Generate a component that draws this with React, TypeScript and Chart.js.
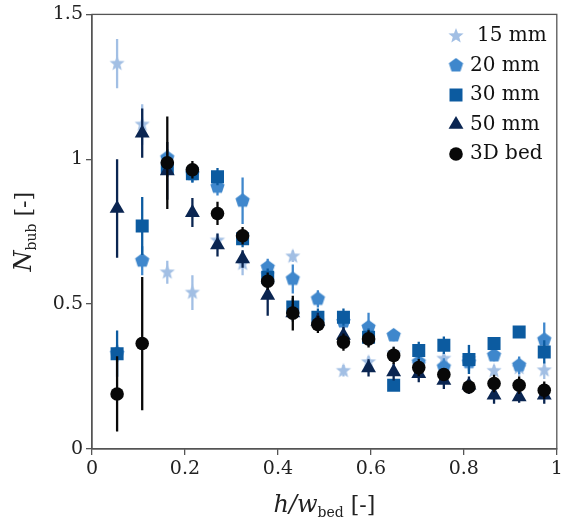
import React, { useEffect, useRef } from 'react';
import { Chart, registerables } from 'chart.js';
Chart.register(...registerables);

const hOverW = [0.054, 0.108, 0.162, 0.216, 0.27, 0.324, 0.378, 0.432, 0.486, 0.541, 0.595, 0.649, 0.703, 0.757, 0.811, 0.865, 0.919, 0.973];

const n15 = [1.33, 1.12, 0.61, 0.54, 0.72, 0.64, 0.6, 0.665, 0.44, 0.27, 0.3, 0.33, 0.29, 0.312, 0.31, 0.27, 0.28, 0.272];
const e15 = [0.085, 0.07, 0.04, 0.06, 0.02, 0.04, 0.03, 0.02, 0.02, 0.02, 0.02, 0.02, 0.02, 0.02, 0.05, 0.02, 0.03, 0.03];

const n20 = [0.33, 0.65, 1.005, 0.95, 0.905, 0.857, 0.627, 0.587, 0.518, 0.44, 0.42, 0.392, 0.3, 0.283, 0.3, 0.323, 0.289, 0.377];
const e20 = [0.03, 0.05, 0.03, 0.03, 0.03, 0.08, 0.03, 0.05, 0.03, 0.03, 0.05, 0.02, 0.02, 0.03, 0.03, 0.02, 0.03, 0.06];

const n30 = [0.329, 0.77, 0.97, 0.95, 0.94, 0.726, 0.593, 0.49, 0.455, 0.455, 0.386, 0.22, 0.34, 0.358, 0.309, 0.364, 0.404, 0.335];
const e30 = [0.08, 0.1, 0.03, 0.03, 0.03, 0.03, 0.03, 0.03, 0.03, 0.03, 0.03, 0.02, 0.03, 0.03, 0.05, 0.02, 0.02, 0.04];

const n50 = [0.83, 1.09, 0.96, 0.816, 0.704, 0.656, 0.53, 0.47, 0.44, 0.392, 0.28, 0.266, 0.26, 0.237, 0.22, 0.186, 0.18, 0.186];
const e50 = [0.17, 0.085, 0.1, 0.05, 0.04, 0.03, 0.07, 0.03, 0.03, 0.03, 0.03, 0.03, 0.03, 0.03, 0.03, 0.03, 0.02, 0.03];

const n3d = [0.19, 0.364, 0.988, 0.964, 0.813, 0.736, 0.579, 0.469, 0.43, 0.369, 0.38, 0.323, 0.281, 0.257, 0.214, 0.226, 0.22, 0.203];
const e3d = [0.13, 0.23, 0.16, 0.03, 0.04, 0.03, 0.03, 0.06, 0.03, 0.03, 0.03, 0.03, 0.03, 0.02, 0.02, 0.03, 0.03, 0.03];

const seriesLabels = ['15 mm', '20 mm', '30 mm', '50 mm', '3D bed'];
const xTicks = [0, 0.2, 0.4, 0.6, 0.8, 1];
const yTicks = [0, 0.5, 1, 1.5];

const COLORS = ['#a2bfe4', '#3f87cc', '#0c5ba0', '#0a2551', '#080808'];
const FONT = '"DejaVu Serif", serif';
const AXIS = '#555555';

function polyCanvas(points: number, outer: number, inner: number, color: string): HTMLCanvasElement {
  const size = Math.ceil(outer * 2 + 2);
  const c = document.createElement('canvas');
  c.width = size;
  c.height = size;
  const ctx = c.getContext('2d')!;
  const cx = size / 2, cy = size / 2;
  ctx.beginPath();
  const n = inner > 0 ? points * 2 : points;
  for (let i = 0; i < n; i++) {
    const r = inner > 0 && i % 2 === 1 ? inner : outer;
    const a = -Math.PI / 2 + (i * 2 * Math.PI) / n;
    const x = cx + r * Math.cos(a);
    const y = cy + r * Math.sin(a);
    if (i === 0) ctx.moveTo(x, y); else ctx.lineTo(x, y);
  }
  ctx.closePath();
  ctx.fillStyle = color;
  ctx.fill();
  return c;
}

export default function App() {
  const ref = useRef<HTMLCanvasElement | null>(null);
  useEffect(() => {
    if (!ref.current) return;
    const star = polyCanvas(5, 8, 3.4, COLORS[0]);
    const pent = polyCanvas(5, 7.5, 0, COLORS[1]);
    const values = [n15, n20, n30, n50, n3d];
    const errors = [e15, e20, e30, e50, e3d];
    const styles: any[] = [star, pent, 'rect', 'triangle', 'circle'];
    const radii = [8, 8, 9.2, 8.6, 6.8];

    const datasets = values.map((vals, k) => ({
      label: seriesLabels[k],
      data: hOverW.map((x, i) => ({ x, y: vals[i] })),
      pointStyle: styles[k],
      pointRadius: radii[k],
      pointHoverRadius: radii[k],
      backgroundColor: COLORS[k],
      borderColor: COLORS[k],
      borderWidth: 0,
      showLine: false,
      order: 5 - k,
    }));

    const errorBars = {
      id: 'errorBars',
      beforeDatasetDraw(chart: any, args: any) {
        const k = args.index;
        const err = errors[k];
        const vals = values[k];
        const ctx = chart.ctx;
        const xs = chart.scales.x;
        const ys = chart.scales.y;
        const a = chart.chartArea;
        ctx.save();
        ctx.beginPath();
        ctx.rect(a.left, a.top, a.right - a.left, a.bottom - a.top);
        ctx.clip();
        ctx.strokeStyle = COLORS[k];
        ctx.lineWidth = 2.3;
        ctx.beginPath();
        hOverW.forEach((x, i) => {
          const px = xs.getPixelForValue(x);
          ctx.moveTo(px, ys.getPixelForValue(vals[i] - err[i]));
          ctx.lineTo(px, ys.getPixelForValue(vals[i] + err[i]));
        });
        ctx.stroke();
        ctx.restore();
      },
    };

    const frameAndText = {
      id: 'frameAndText',
      afterDraw(chart: any) {
        const ctx = chart.ctx;
        const a = chart.chartArea;
        ctx.save();
        ctx.strokeStyle = AXIS;
        ctx.lineWidth = 1.3;
        ctx.strokeRect(a.left, a.top, a.right - a.left, a.bottom - a.top);

        // legend
        const lx = 456;
        const ly0 = 36;
        const dy = 29.5;
        ctx.textBaseline = 'middle';
        ctx.textAlign = 'left';
        ctx.fillStyle = '#111';
        ctx.font = `20px ${FONT}`;
        chart.data.datasets.forEach((ds: any, k: number) => {
          const y = ly0 + k * dy;
          const st = ds.pointStyle;
          if (st instanceof HTMLCanvasElement) {
            ctx.drawImage(st, lx - st.width / 2, y - st.height / 2);
          } else {
            ctx.fillStyle = COLORS[k];
            (Chart as any).helpers
              ? null
              : null;
            ctx.beginPath();
            if (st === 'rect') {
              ctx.rect(lx - 6.5, y - 6.5, 13, 13);
            } else if (st === 'triangle') {
              const r = 8.6;
              ctx.moveTo(lx, y - r);
              ctx.lineTo(lx + r * Math.sin((2 * Math.PI) / 3), y - r * Math.cos((2 * Math.PI) / 3));
              ctx.lineTo(lx + r * Math.sin((4 * Math.PI) / 3), y - r * Math.cos((4 * Math.PI) / 3));
              ctx.closePath();
            } else {
              ctx.arc(lx, y, 6.8, 0, Math.PI * 2);
            }
            ctx.fill();
          }
          ctx.fillStyle = '#111';
          const tx = k === 0 ? 477 : 470;
          ctx.fillText(ds.label, tx, y);
        });

        // axis titles
        const drawParts = (parts: { t: string; f: string; dy: number }[]) => {
          let total = 0;
          parts.forEach((p) => {
            ctx.font = p.f;
            total += ctx.measureText(p.t).width;
          });
          let x = -total / 2;
          parts.forEach((p) => {
            ctx.font = p.f;
            ctx.fillText(p.t, x, p.dy);
            x += ctx.measureText(p.t).width;
          });
        };
        ctx.fillStyle = '#222';
        ctx.textAlign = 'left';
        ctx.textBaseline = 'alphabetic';
        ctx.save();
        ctx.translate((a.left + a.right) / 2, 512);
        drawParts([
          { t: 'h/w', f: `italic 24px ${FONT}`, dy: 0 },
          { t: 'bed', f: `14px ${FONT}`, dy: 5 },
          { t: ' [-]', f: `22px ${FONT}`, dy: 0 },
        ]);
        ctx.restore();
        ctx.save();
        ctx.translate(31, (a.top + a.bottom) / 2);
        ctx.rotate(-Math.PI / 2);
        drawParts([
          { t: 'N', f: `italic 24px ${FONT}`, dy: 0 },
          { t: 'bub', f: `14px ${FONT}`, dy: 5 },
          { t: ' [-]', f: `22px ${FONT}`, dy: 0 },
        ]);
        ctx.restore();
        ctx.restore();
      },
    };

    const fmt = (v: number) => (v === 0 ? '0' : String(v));

    const chart = new Chart(ref.current, {
      type: 'scatter',
      data: { datasets: datasets as any },
      options: {
        animation: false,
        responsive: false,
        events: [],
        layout: { padding: { left: 0, right: 4, top: 13, bottom: 0 } },
        plugins: { legend: { display: false }, tooltip: { enabled: false } },
        scales: {
          x: {
            type: 'linear',
            min: 0,
            max: 1,
            afterBuildTicks: (s: any) => {
              s.ticks = xTicks.map((v) => ({ value: v }));
            },
            afterFit: (s: any) => {
              s.height = 75;
            },
            grid: { drawOnChartArea: false, drawTicks: true, tickLength: 6, color: AXIS, lineWidth: 1.3 },
            border: { display: true, color: AXIS, width: 1.3 },
            ticks: { font: { family: FONT, size: 19 }, color: '#222', padding: 3, callback: (v: any) => fmt(Number(v)), maxRotation: 0 },
          },
          y: {
            type: 'linear',
            min: 0,
            max: 1.5,
            afterBuildTicks: (s: any) => {
              s.ticks = yTicks.map((v) => ({ value: v }));
            },
            afterFit: (s: any) => {
              s.width = 92;
            },
            grid: { drawOnChartArea: false, drawTicks: true, tickLength: 6, color: AXIS, lineWidth: 1.3 },
            border: { display: true, color: AXIS, width: 1.3 },
            ticks: { font: { family: FONT, size: 19 }, color: '#222', padding: 3, callback: (v: any) => fmt(Number(v)) },
          },
        },
      },
      plugins: [errorBars, frameAndText],
    });
    return () => chart.destroy();
  }, []);

  return (
    <div style={{ position: 'fixed', left: 0, top: 0, width: 566, height: 524, background: '#fff' }}>
      <canvas ref={ref} width={566} height={524} style={{ display: 'block' }} />
    </div>
  );
}
